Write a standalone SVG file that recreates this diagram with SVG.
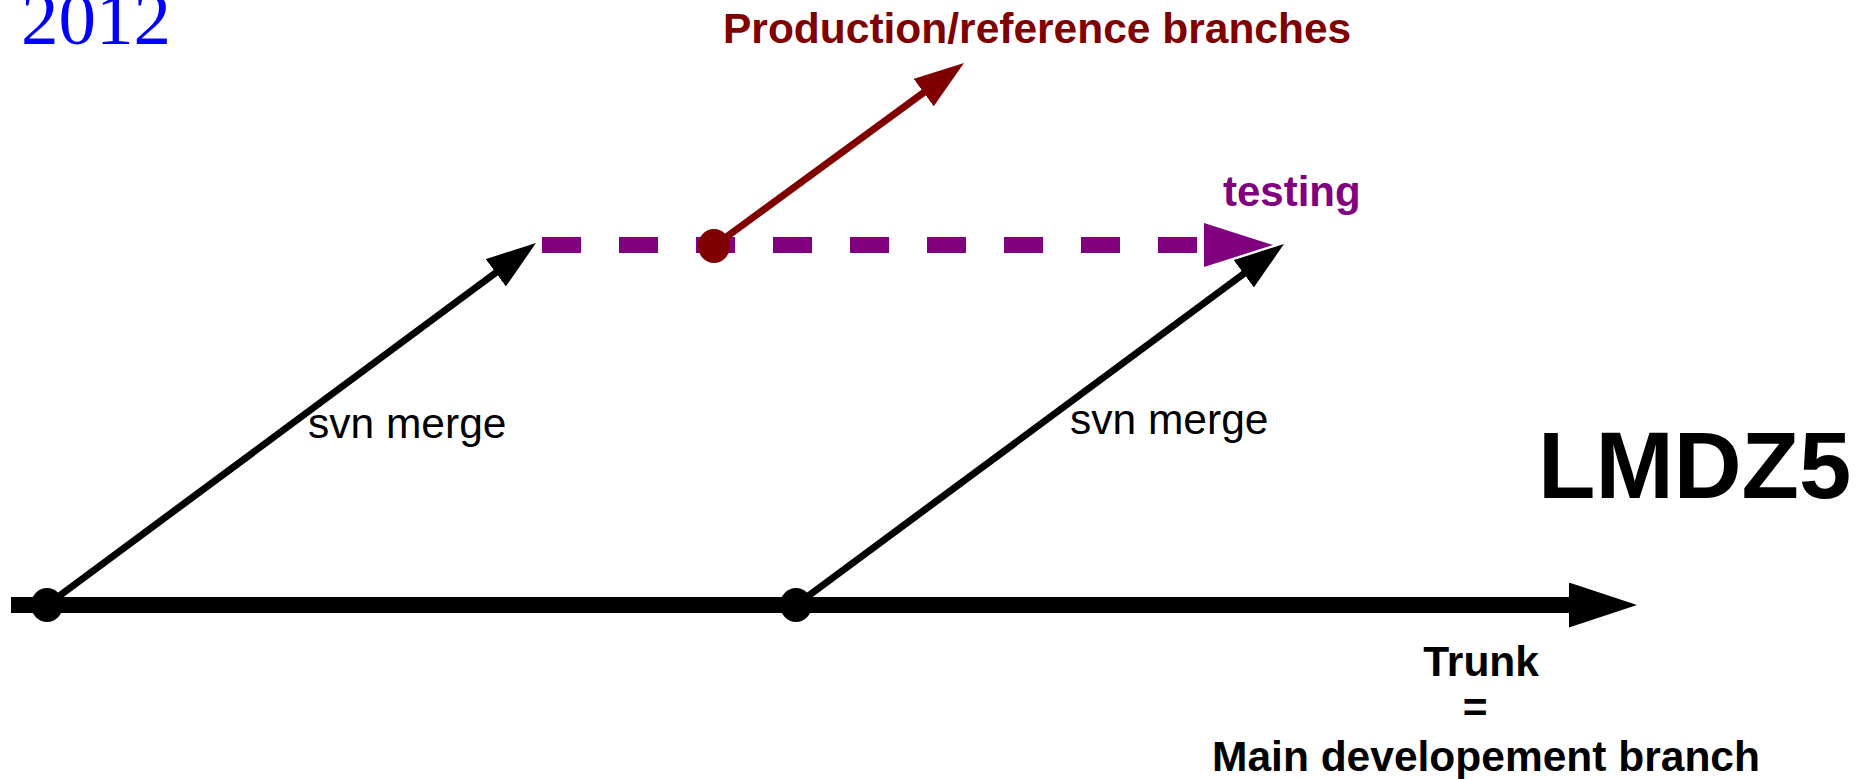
<svg xmlns="http://www.w3.org/2000/svg" width="1865" height="779" viewBox="0 0 1865 779">
  <style>
    .lbl { font-family: "Liberation Sans", Arial, sans-serif; }
    .bold { font-weight: bold; }
    .diag { fill: none; stroke-width: 7; }
  </style>
  <defs>
    <marker id="headBlack" markerUnits="userSpaceOnUse" viewBox="0 0 50 34" markerWidth="50" markerHeight="34" refX="5" refY="17" orient="auto">
      <path d="M0,0 L50,17 L0,34 Z" fill="#000000"/>
    </marker>
    <marker id="headRed" markerUnits="userSpaceOnUse" viewBox="0 0 50 34" markerWidth="50" markerHeight="34" refX="5" refY="17" orient="auto">
      <path d="M0,0 L50,17 L0,34 Z" fill="#800000"/>
    </marker>
    <marker id="headTrunk" markerUnits="userSpaceOnUse" viewBox="0 0 68 45" markerWidth="68" markerHeight="45" refX="0" refY="22.5" orient="auto">
      <path d="M0,0 L68,22.5 L0,45 Z" fill="#000000"/>
    </marker>
    <marker id="headPurple" markerUnits="userSpaceOnUse" viewBox="0 0 69 44" markerWidth="69" markerHeight="44" refX="0" refY="22" orient="auto">
      <path d="M0,0 L69,22 L0,44 Z" fill="#800080"/>
    </marker>
  </defs>

  <g id="year">
    <text x="21" y="44" font-family="'Liberation Serif', 'Times New Roman', serif" font-size="75" fill="#0000ff">2012</text>
  </g>

  <g id="connectors">
    <line id="trunk-line" x1="11" y1="605" x2="1569" y2="605" stroke="#000000" stroke-width="16" marker-end="url(#headTrunk)"/>
    <line id="testing-line" x1="542" y1="245" x2="1204" y2="245" stroke="#800080" stroke-width="16" stroke-dasharray="39 38" marker-end="url(#headPurple)"/>
    <line id="merge1" class="diag" x1="47" y1="605" x2="499.8" y2="269.8" stroke="#000000" marker-end="url(#headBlack)"/>
    <line id="merge2" class="diag" x1="796" y1="605" x2="1247.8" y2="270.8" stroke="#000000" marker-end="url(#headBlack)"/>
    <line id="prod-line" class="diag" x1="714" y1="246" x2="927.7" y2="89.6" stroke="#800000" marker-end="url(#headRed)"/>
  </g>

  <g id="node-trunk-start">
    <ellipse cx="47" cy="605" rx="16" ry="17" fill="#000000"/>
  </g>
  <g id="node-trunk-mid">
    <ellipse cx="796" cy="605" rx="16" ry="17" fill="#000000"/>
  </g>
  <g id="node-testing-branchpoint">
    <ellipse cx="714" cy="246" rx="16" ry="17" fill="#800000"/>
  </g>

  <g id="label-production">
    <text class="lbl bold" x="723" y="43" font-size="42.5" fill="#800000">Production/reference branches</text>
  </g>
  <g id="label-testing">
    <text class="lbl bold" x="1223" y="206" font-size="42" fill="#800080">testing</text>
  </g>
  <g id="label-merge1">
    <text class="lbl" x="308" y="438" font-size="42.5" fill="#000000">svn merge</text>
  </g>
  <g id="label-merge2">
    <text class="lbl" x="1070" y="434" font-size="42.5" fill="#000000">svn merge</text>
  </g>
  <g id="label-lmdz5">
    <text class="lbl bold" x="1538" y="498" font-size="94" fill="#000000">LMDZ5</text>
  </g>
  <g id="label-trunk">
    <text class="lbl bold" text-anchor="middle" font-size="42.5" fill="#000000">
      <tspan x="1487" y="676">Trunk</tspan>
      <tspan x="1481" y="722">=</tspan>
      <tspan x="1486" y="771">Main developement branch</tspan>
    </text>
  </g>
</svg>
